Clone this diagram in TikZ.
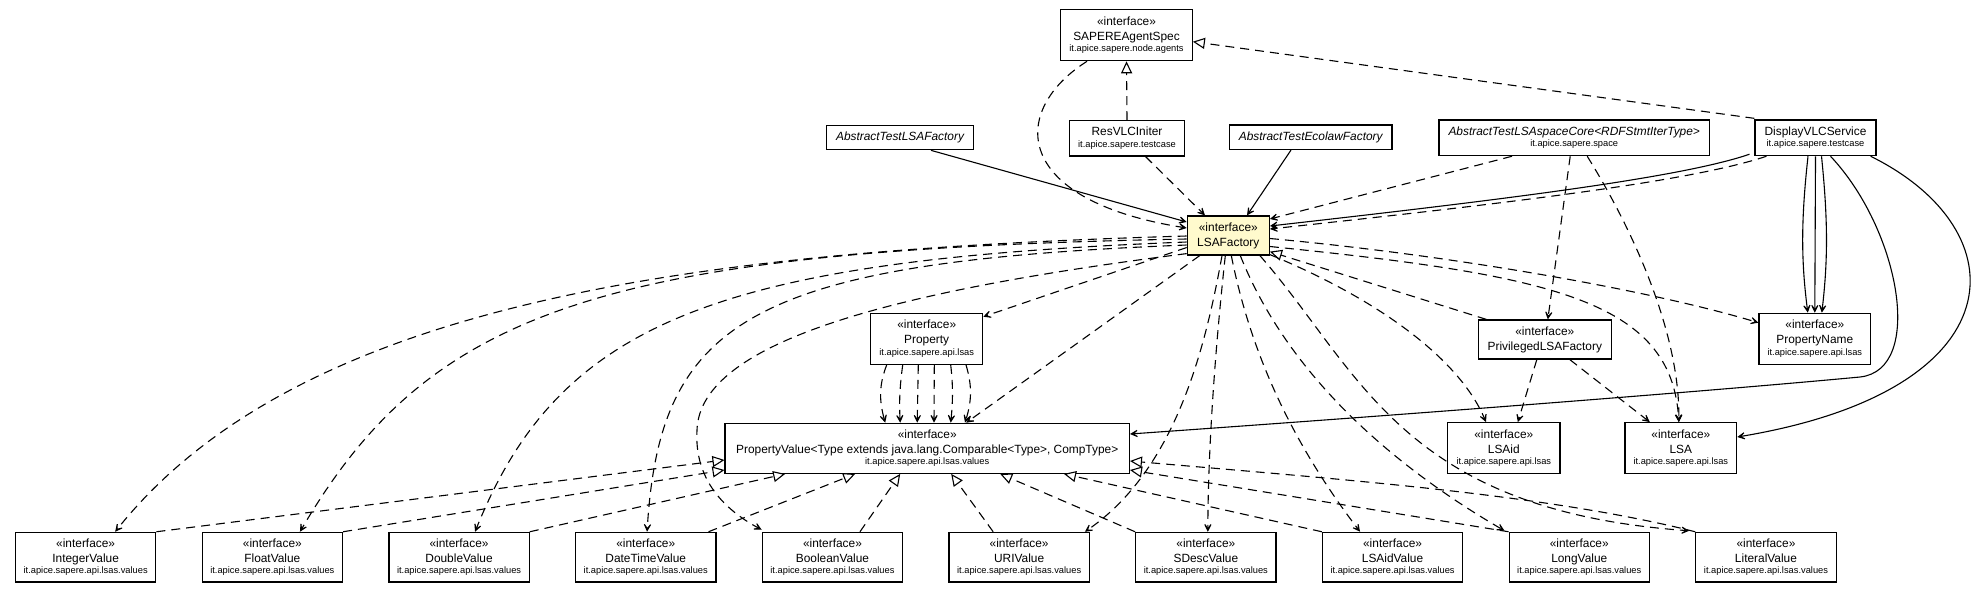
\documentclass[tikz,border=0pt]{standalone}
\usepackage{fontspec}
\setmainfont{Liberation Sans}
\usetikzlibrary{arrows.meta,calc}
\definecolor{lemon}{RGB}{255,250,205}
\newcommand\ifc{«interface»\\}
\newcommand\pk[1]{\\[-3.6pt]{\fontsize{9.3}{11}\selectfont #1}}
\begin{document}
\begin{tikzpicture}[x=1pt,y=-1pt,
  box/.style={draw, line width=1.2pt, fill=white, inner sep=0pt, align=center, font=\fontsize{11.9}{15}\selectfont},
  edge/.style={line width=1.1pt},
  dep/.style={edge, dash pattern=on 9pt off 6pt, -{Stealth[length=12pt,width=12pt,inset=8pt]}},
  assoc/.style={edge, -{Stealth[length=12pt,width=12pt,inset=8pt]}},
  real/.style={edge, dash pattern=on 9pt off 6pt, -{Triangle[open,length=12pt,width=11pt,fill=white]}},
  bot/.style={box, minimum width=140.3pt, minimum height=49.7pt}
]
\useasboundingbox (0,0) rectangle (1972,595);
% nodes
\node[box, minimum width=131.5pt, minimum height=51.4pt] (sapere) at (1126.5,35) {\ifc SAPEREAgentSpec\pk{it.apice.sapere.node.agents}};
\node[box, minimum width=115.3pt, minimum height=35.3pt] (resvlc) at (1127,138.3) {ResVLCIniter\pk{it.apice.sapere.testcase}};
\node[box, minimum width=146.6pt, minimum height=24.5pt, font=\fontsize{11.9}{15}\selectfont\itshape] (atlsaf) at (900,137.5) {AbstractTestLSAFactory};
\node[box, minimum width=162.7pt, minimum height=24.5pt, font=\fontsize{11.9}{15}\selectfont\itshape] (ateco) at (1310.7,137.2) {AbstractTestEcolawFactory};
\node[box, minimum width=270.3pt, minimum height=35.7pt] (atlsc) at (1574.2,137.8) {\textit{AbstractTestLSAspaceCore<RDFStmtIterType>}\pk{it.apice.sapere.space}};
\node[box, minimum width=121pt, minimum height=35.7pt] (dvs) at (1815.5,137.8) {DisplayVLCService\pk{it.apice.sapere.testcase}};
\node[box, fill=lemon, minimum width=82pt, minimum height=39pt] (lsaf) at (1228.3,235.5) {«interface»\\LSAFactory};
\node[box, minimum width=112pt, minimum height=51pt] (prop) at (926.7,338.8) {\ifc Property\pk{it.apice.sapere.api.lsas}};
\node[box, minimum width=133pt, minimum height=39pt] (priv) at (1544.8,339.5) {«interface»\\PrivilegedLSAFactory};
\node[box, minimum width=111.7pt, minimum height=51pt] (pname) at (1814.8,338.8) {\ifc PropertyName\pk{it.apice.sapere.api.lsas}};
\node[box, minimum width=404.3pt, minimum height=50pt] (pv) at (927.2,448.3) {\ifc PropertyValue<Type extends java.lang.Comparable<Type>, CompType>\pk{it.apice.sapere.api.lsas.values}};
\node[box, minimum width=112.3pt, minimum height=50.6pt] (lsaid) at (1503.8,448) {\ifc LSAid\pk{it.apice.sapere.api.lsas}};
\node[box, minimum width=111.7pt, minimum height=50.6pt] (lsa) at (1680.8,448) {\ifc LSA\pk{it.apice.sapere.api.lsas}};
\foreach \n/\t [count=\k from 0] in {intv/IntegerValue, floatv/FloatValue, doublev/DoubleValue, datev/DateTimeValue, boolv/BooleanValue, uriv/URIValue, sdescv/SDescValue, lsaidv/LSAidValue, longv/LongValue, litv/LiteralValue}
  \node[bot] (\n) at (85.65+186.7*\k, 557.2) {\ifc \t\pk{it.apice.sapere.api.lsas.values}};
% top edges
\draw[real] (resvlc.north) -- (sapere.south);
\draw[real] ($(dvs.north west)+(0,-1)$) -- ($(sapere.east)+(0,6.7)$);
\draw[assoc] ($(atlsaf.south)+(31,0)$) -- ($(lsaf.west)+(0,-13.5)$);
\draw[dep] ($(sapere.south)+(-39.5,0)$) .. controls (1010,110) and (1010,200) .. ($(lsaf.west)+(0,-7.5)$);
\draw[dep] ($(resvlc.south)+(18.5,0)$) -- ($(lsaf.north)+(-23.3,0)$);
\draw[assoc] ($(ateco.south)+(-19.7,0)$) -- ($(lsaf.north)+(18.7,0)$);
\draw[dep] ($(atlsc.south)+(-62.2,0)$) -- ($(lsaf.east)+(0,-16.5)$);
\draw[assoc] ($(dvs.south west)+(-5,-2)$) .. controls (1680,178) and (1500,200) .. ($(lsaf.east)+(0,-9.5)$);
\draw[dep] ($(dvs.south west)+(12,0)$) .. controls (1690,182) and (1500,204) .. ($(lsaf.east)+(0,-6.5)$);
\draw[real] ($(priv.north west)+(8.7,0)$) -- ($(lsaf.south east)+(0,-4)$);
\draw[dep] ($(lsaf.east)+(0,3)$) .. controls (1450,255) and (1650,290) .. ($(pname.north west)+(0,10)$);
\draw[dep] ($(lsaf.east)+(0,11)$) .. controls (1550,275) and (1672,300) .. ($(lsa.north)+(-2,0)$);
\draw[dep] ($(lsaf.south east)+(0,-1)$) .. controls (1380,300) and (1460,360) .. ($(lsaid.north)+(-17.8,0)$);
\draw[dep] ($(lsaf.west)+(0,12)$) -- ($(prop.north east)+(0,4)$);
\draw[dep] ($(lsaf.south west)+(13,0)$) -- ($(pv.north)+(39,0)$);
% left fan
\draw[dep] ($(lsaf.west)+(0,0.5)$) .. controls (700,250) and (300,300) .. ($(intv.north)+(29.5,0)$);
\draw[dep] ($(lsaf.west)+(0,3.5)$) .. controls (600,250) and (430,310) .. ($(floatv.north)+(27.6,0)$);
\draw[dep] ($(lsaf.west)+(0,6.5)$) .. controls (720,260) and (560,320) .. ($(doublev.north)+(16,0)$);
\draw[dep] ($(lsaf.west)+(0,9.5)$) .. controls (750,262) and (660,320) .. ($(datev.north)+(1.3,0)$);
\draw[dep] ($(lsaf.south west)+(0,-2)$) .. controls (900,290) and (700,340) .. (697,430) .. controls (694,480) and (725,510) .. ($(boolv.north west)+(0,-2)$);
% down fan
\draw[dep] ($(lsaf.south)+(-6.3,0)$) .. controls (1205,350) and (1175,470) .. ($(uriv.north east)+(-5,0)$);
\draw[dep] ($(lsaf.south)+(-3,0)$) .. controls (1215,350) and (1208,450) .. ($(sdescv.north)+(2,0)$);
\draw[dep] ($(lsaf.south)+(3,0)$) .. controls (1250,350) and (1290,440) .. ($(lsaidv.north)+(-32.5,0)$);
\draw[dep] ($(lsaf.south)+(12,0)$) .. controls (1290,380) and (1400,470) .. ($(longv.north west)+(-4,-1)$);
\draw[dep] ($(lsaf.south east)+(-10,0)$) .. controls (1360,370) and (1400,510) .. ($(litv.north west)+(-6,-1)$);
% DisplayVLCService
\draw[assoc] ($(dvs.south)+(-7.5,0)$) .. controls (1801,220) and (1801,260) .. ($(pname.north)+(-7,0)$);
\draw[assoc] (dvs.south) -- (pname.north);
\draw[assoc] ($(dvs.south)+(6,0)$) .. controls (1828,220) and (1828,260) .. ($(pname.north)+(7,0)$);
\draw[assoc] ($(dvs.south)+(15,0)$) .. controls (1900,230) and (1925,370) .. (1860,377) .. controls (1700,392) and (1400,415) .. ($(pv.east)+(0,-14.3)$);
\draw[assoc] ($(dvs.south east)+(-6,0)$) .. controls (2020,230) and (2020,390) .. ($(lsa.east)+(0,-11)$);
% AbstractTestLSAspaceCore
\draw[dep] ($(atlsc.south)+(-4,0)$) -- ($(priv.north)+(3,0)$);
\draw[dep] ($(atlsc.south)+(13,0)$) .. controls (1630,225) and (1680,330) .. ($(lsa.north)+(-2,0)$);
% PrivilegedLSAFactory
\draw[dep] ($(priv.south)+(-8,0)$) -- ($(lsaid.north)+(14,0)$);
\draw[dep] ($(priv.south)+(25,0)$) -- ($(lsa.north)+(-31,0)$);
% Property -> PropertyValue
\draw[dep] ($(prop.south)+(-40,0)$) .. controls (879,385) and (879,400) .. ($(pv.north)+(-42,0)$);
\draw[dep] ($(prop.south)+(-24,0)$) .. controls (900,385) and (899,400) .. ($(pv.north)+(-27,0)$);
\draw[dep] ($(prop.south)+(-8.4,0)$) -- ($(pv.north)+(-10,0)$);
\draw[dep] ($(prop.south)+(7.6,0)$) -- ($(pv.north)+(6.8,0)$);
\draw[dep] ($(prop.south)+(24,0)$) .. controls (953,385) and (953,400) .. ($(pv.north)+(23.5,0)$);
\draw[dep] ($(prop.south)+(39.3,0)$) .. controls (972,385) and (972,400) .. ($(pv.north)+(37.8,0)$);
% realizations
\draw[real] (intv.north east) -- ($(pv.west)+(0,11.7)$);
\draw[real] (floatv.north east) -- ($(pv.west)+(0,21.7)$);
\draw[real] (doublev.north east) -- ($(pv.south)+(-142,0)$);
\draw[real] ($(datev.north east)+(-8,0)$) -- ($(pv.south)+(-72,0)$);
\draw[real] ($(boolv.north)+(27.5,0)$) -- ($(pv.south)+(-27,0)$);
\draw[real] ($(uriv.north)+(-26,0)$) -- ($(pv.south)+(24,0)$);
\draw[real] (sdescv.north west) -- ($(pv.south)+(73,0)$);
\draw[real] (lsaidv.north west) -- ($(pv.south east)+(-66,0)$);
\draw[real] (longv.north west) -- ($(pv.east)+(0,21.7)$);
\draw[real] (litv.north west) .. controls (1550,495) and (1350,480) .. ($(pv.east)+(0,12.7)$);
\end{tikzpicture}
\end{document}
